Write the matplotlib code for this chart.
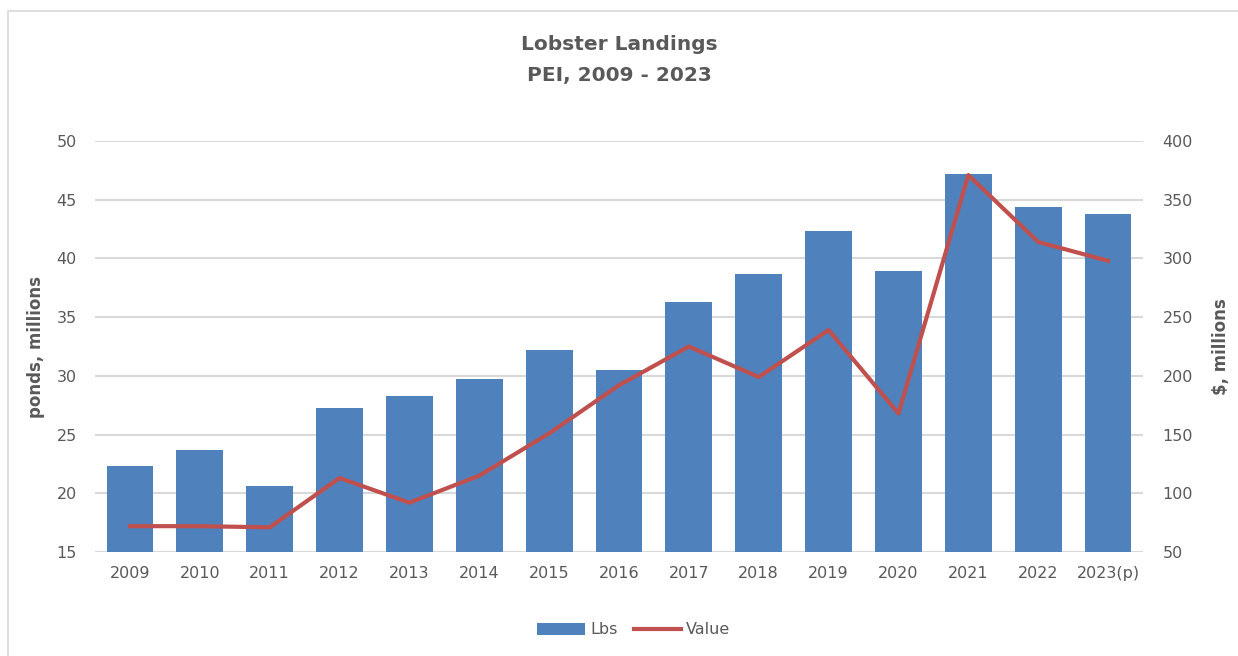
import numpy as np
import matplotlib
matplotlib.use("Agg")
import matplotlib.pyplot as plt
from matplotlib.patches import Rectangle

years = ['2009', '2010', '2011', '2012', '2013', '2014', '2015', '2016',
         '2017', '2018', '2019', '2020', '2021', '2022', '2023(p)']
lbs = [22.3, 23.7, 20.6, 27.3, 28.3, 29.7, 32.2, 30.5,
       36.3, 38.7, 42.3, 38.9, 47.2, 44.4, 43.8]
value = [72, 72, 71, 113, 92, 115, 151, 192,
         225, 199, 239, 168, 371, 314, 298]

bar_col = '#4F81BD'
line_col = '#C0504D'
txt_col = '#595959'
grid_col = '#D9D9D9'

plt.rcParams['font.family'] = ['DejaVu Sans']

fig = plt.figure(figsize=(12.38, 6.56), dpi=100)
# outer chart frame (right and bottom edges fall outside the picture)
fig.patches.append(Rectangle((8/1238, -0.05), 1.1, 1 - 11/656 + 0.05,
                             transform=fig.transFigure, fill=False,
                             edgecolor=grid_col, linewidth=1.2))

ax = fig.add_axes([95/1238, 1 - 552/656, 1048/1238, 411/656])
x = np.arange(len(years))
ax.bar(x, lbs, width=0.67, color=bar_col, label='Lbs', zorder=2)
ax.set_ylim(15, 50)
ax.set_xlim(-0.5, len(years) - 0.5)
ax.set_yticks(np.arange(15, 51, 5))
ax.set_xticks(x)
ax.set_xticklabels(years)
ax.grid(axis='y', color=grid_col, linewidth=1.5, zorder=0)
for s in ax.spines.values():
    s.set_visible(False)
ax.tick_params(length=0, labelsize=11.5, colors=txt_col, pad=10)
ax.tick_params(axis='y', pad=13)
ax.set_ylabel('ponds, millions', fontsize=12, fontweight='bold', color=txt_col)
ax.yaxis.set_label_coords(-50/1048, 0.5)

ax2 = ax.twinx()
ax2.plot(x, value, color=line_col, linewidth=3, label='Value', zorder=3)
ax2.set_ylim(50, 400)
ax2.set_yticks(np.arange(50, 401, 50))
for s in ax2.spines.values():
    s.set_visible(False)
ax2.tick_params(length=0, labelsize=11.5, colors=txt_col, pad=14)
ax2.set_ylabel('$, millions', fontsize=12, fontweight='bold', color=txt_col)
ax2.yaxis.set_label_coords(1 + 69/1048, 0.5)

fig.text(0.5, 1 - 45/656, 'Lobster Landings', ha='center', va='center',
         fontsize=14.5, fontweight='bold', color=txt_col)
fig.text(0.5, 1 - 75/656, 'PEI, 2009 - 2023', ha='center', va='center',
         fontsize=14.5, fontweight='bold', color=txt_col)

h1, l1 = ax.get_legend_handles_labels()
h2, l2 = ax2.get_legend_handles_labels()
fig.legend(h1 + h2, l1 + l2, loc='center', bbox_to_anchor=(634/1238, 1 - 630/656),
           ncol=2, frameon=False, fontsize=11.5, labelcolor=txt_col,
           handlelength=3.0, handletextpad=0.3, columnspacing=1.0)

fig.savefig('out.png', dpi=100)
